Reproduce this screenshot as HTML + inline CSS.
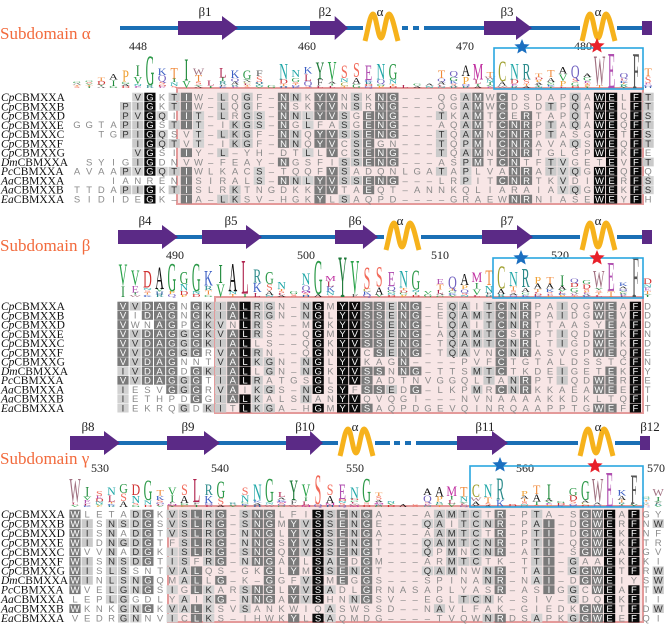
<!DOCTYPE html>
<html><head><meta charset="utf-8">
<style>
html,body{margin:0;padding:0;background:#fff;}
svg{display:block;}
</style></head>
<body>
<svg id="fig" width="667" height="625" viewBox="0 0 667 625" xmlns="http://www.w3.org/2000/svg"></svg>
<script>
const speciesNames = ["CpCBMXXA","CpCBMXXB","CpCBMXXD","CpCBMXXE","CpCBMXXC","CpCBMXXF","CpCBMXXG","DmCBMXXA","PcCBMXXA","AaCBMXXA","AaCBMXXB","EaCBMXXA"];
const seqAlpha = [
"     VGKTIW-LQGF-NNKYVNSKNG---QGAMWCDSDAPQAWELFT",
"    PIGKTIW-LQGF-NSKYVNSRNG---QGAMWCDSDTPQAWELFT",
"    PVGQIIT-LRGS-NNLYVSGENG---TKAMTCERTAPQTWEQFS",
"GGTAPIGSTIT-IKGS-NGLFASGENG---AQAMTCNRPTAQAWEQFT",
"  TGPIGQSVT-LKGF-NNQYVSSENG---TQAMNCNRPTASGWETFS",
"     IGQTVT-IKGF-NNQYVCSEGN---TQPMICNRAVAQSWEQFT",
"     VGSIIY-L-YH-DTLLVCSENG---TQAMNCNRTGLGPWEKFE",
" SYIGIGDNVW-FEAY-NGSFISSENG---ASPMTCNTFTVGETEVFT",
"AVAAPVGQTIWLKACS-TQQFVSADQNLGATAPLVANRATVQGWEQFQ",
"   IANRENISIRALS-NNLYVSSENG---LRPITCNRTKVDIWERFS",
"TTDAPIGKTISLRKTNGDKKYVTAEQT-ANNKQLIARAIAVQGWEKFS",
"SIDIDEGK-IA-LKSV-HGKYLSAQPD----GRAEWNRNIASEWEYFH"];
const seqBeta = [
"VVDAGNGKIALRGN-NGMYVSSENG-EQAITCNRPAIQGWEAFD",
"VIDAGNGKIALRGN-NGLYVSSENG-EQAMTCNRPAIDGWEVFD",
"VWNAGPGKVNLRS--MGKYVSSENG-LQAITCNRTTAASYEAFD",
"VVDAGGGKVALRS--QGMYVSSENG-AQAMTCSRPTIQDWEKFN",
"VVDAGGGKIALLS--QGKYVSSENG-TQAMTCNRLTIGDWEKFD",
"VVDAGGGRVALRN--QGNYVCSENG-TQAVNCNRASVGPWEQFE",
"VVDAGNNTVALKGN-NGLYVKAGN----PVFCTGTALDSSTCFN",
"IVDAGDGKIALLGN-NGKYVSSNNG-TTSMTCTKDEIGETEKFY",
"VVDAGGGTIALRATGSGLYVSADTNVGGQLTANRPTIQDWERFE",
"IESVGGGRVAIKGS-NGSYFSSEDG-LKPMRCNRKKAEAWEEFT",
"IETHPDGGIALKALSNANYVQVQGI---NVNAAAAKKDKLTQFI",
"IEKRQGDKITLKGA-HGMYVSAQPDGEVQINRQAAPPTGWEFFT"];
const seqGamma = [
"WLETADGKVSLRG-SNGLFISSENGA---AAMTCTR-PTA-SGWEAFGY",
"WISNSDGSVSLRG-SNGMYVSSENGE---QAITCNR-PAI-DGWERFNW",
"WISNADGTVSLRG-NNGLYVSSENGA---AAMTCTR-PTI-DGWEKFNF",
"WIDNGDGTFSLRG-NNGSYVSSENGT---QAMTCNR-PTI-QGWEKFTR",
"WVVNADGKISLRG-SNGQYVSSENGT---QPMNCNR-ATI-SGWEAFGV",
"WISNSDGTISFRG-NNGAYLSAEDGM---ARMTCTK-TTI-GAAEKFKI",
"WISLSSNTVALQS-GKGLYMSSENGT---QAMNWNR-TAI-GGWETFRW",
"WINLSNGQMALLG-K-GGFVSMEGGS---SPINANR-NAI-DGWEIYSW",
"WVELGNGSIGLKARSNGLYVSADLGRNASAPLYASR-ASIGGCWEAFTW",
"LEPLGGDLYAIKG-NNGAYVSHNNGSV--EGLTCNK-SIV-GDQEKFII",
"WKNKGNGKVALKSVSANKWIQASWSSD--NAVLFAK-GIEDKGWETFDW",
"VEDRGNNVICLKS-IHWKYLSAQMDG----TVQWNRDSAPKGGWEEFQI"];
const posAlpha = [448,460,470,480];
const posBeta = [490,500,510,520];
const posGamma = [530,540,550,560,570];

const NS="http://www.w3.org/2000/svg";
const svg=document.getElementById('fig');
function mk(tag,attrs,parent){const e=document.createElementNS(NS,tag);for(const k in attrs)e.setAttribute(k,attrs[k]);(parent||svg).appendChild(e);return e;}
const colors={G:'#2e9a4a',I:'#1f8a3a',K:'#3d5fc4',T:'#f08a3a',L:'#b0244f',N:'#22a8a8',Y:'#1f7a3a',V:'#2aa34a',S:'#f26a5a',E:'#b04fb0',W:'#a07080',F:'#555555',C:'#a0a030',M:'#c030a0',R:'#2a8a8a',A:'#111111',Q:'#7060c0',P:'#f0a030',D:'#d03030',H:'#3060a0'};

const panels=[
 {name:'alpha',label:'Subdomain α',ly:33,seqs:seqAlpha,pos:posAlpha,posX:[138,307,465,583],numY:50,x0:77,px:12.15,ry0:97,rp:9.27,lb:88,lh:38,pink:[177,88,643,204],blue:[494,48,643,89],
  ssY:28,line:[120,648],arrows:[[178,238],[310,348],[484,532]],helix:[365,582],dash:[[398,430]],sq:642,
  labels:[['β1',205],['β2',325],['α',380],['β3',507],['α',598]],stars:[[522,47,'#1b6fc0'],[597,46,'#e8202a']]},
 {name:'beta',label:'Subdomain β',ly:245,seqs:seqBeta,pos:posBeta,posX:[175,306,440,560],numY:259,x0:123,px:12.2,ry0:306,rp:9.27,lb:297,lh:44,pink:[215,297,643,413],blue:[493,258,643,298],
  ssY:237,line:[118,648],arrows:[[118,178],[202,262],[335,378],[482,533]],helix:[386,582],dash:[],sq:642,
  labels:[['β4',145],['β5',231],['β6',355],['α',400],['β7',507],['α',598]],stars:[[521,258,'#1b6fc0'],[597,258,'#e8202a']]},
 {name:'gamma',label:'Subdomain γ',ly:458,seqs:seqGamma,pos:posGamma,posX:[100,220,355,525,656],numY:472,x0:75,px:12.15,ry0:514,rp:9.45,lb:507,lh:38,pink:[168,506,643,622],blue:[470,466,643,507],
  ssY:443,line:[70,648],arrows:[[70,120],[167,220],[286,323],[457,508]],helix:[340,580],dash:[[390,422]],sq:640,
  labels:[['β8',88],['β9',188],['β10',305],['α',355],['β11',485],['α',598],['β12',650]],stars:[[500,465,'#1b6fc0'],[595,466,'#e8202a']]}
];

function star(cx,cy,r,fill,g,name){
 let pts=[];for(let i=0;i<10;i++){const a=-Math.PI/2+i*Math.PI/5;const rr=i%2?r*0.45:r;pts.push((cx+rr*Math.cos(a)).toFixed(1)+','+(cy+rr*Math.sin(a)).toFixed(1));}
 const s=mk('polygon',{points:pts.join(' '),fill:fill},g);
 
 
}

panels.forEach(P=>{
 const g=mk('g',{});
 
 
 const t=mk('text',{x:0,y:P.ly+6,'font-family':'Liberation Serif, serif','font-size':17,fill:'#f26a3c'},g);
 t.textContent=P.label;
 
 
 const ss=mk('g',{},g);
 
 
 let segs=[[P.line[0],P.line[1]]];
 P.dash.forEach(d=>{
   segs=[[P.line[0],d[0]],[d[1],P.line[1]]];
   for(let x=d[0]+4;x<d[1]-2;x+=11){mk('line',{x1:x,y1:P.ssY,x2:x+6,y2:P.ssY,stroke:'#1a6fb5','stroke-width':4},ss);}
 });
 segs.forEach(s=>mk('line',{x1:s[0],y1:P.ssY,x2:s[1],y2:P.ssY,stroke:'#1a6fb5','stroke-width':4},ss));
 P.arrows.forEach(a=>{
   const y=P.ssY,w=a[1]-a[0],hl=Math.min(16,w*0.35);
   const p=mk('polygon',{points:`${a[0]},${y-7} ${a[1]-hl},${y-7} ${a[1]-hl},${y-12} ${a[1]},${y} ${a[1]-hl},${y+12} ${a[1]-hl},${y+7} ${a[0]},${y+7}`,fill:'#5b2a86'},ss);
   
   
 });
 P.helix.forEach(hx=>{
   const y=P.ssY;
   mk('rect',{x:hx-2,y:y-3,width:37,height:6,fill:'#fff'},ss);
   const h=mk('path',{d:`M${hx},${y+13} C${hx+3},${y+2} ${hx+5},${y-14} ${hx+8},${y-14} C${hx+11},${y-14} ${hx+13},${y+10} ${hx+16},${y+10} C${hx+19},${y+10} ${hx+21},${y-14} ${hx+24},${y-14} C${hx+27},${y-14} ${hx+30},${y+2} ${hx+33},${y+13}`,fill:'none',stroke:'#f6b21c','stroke-width':5,'stroke-linejoin':'round'},ss);
   
   
 });
 mk('rect',{x:P.sq,y:P.ssY-7,width:10,height:14,fill:'#5b2a86'},ss);
 P.labels.forEach(l=>{
   const tx=mk('text',{x:l[1],y:P.ssY-12,'text-anchor':'middle','font-family':'Liberation Serif, serif','font-size':13,fill:'#222'},ss);
   tx.textContent=l[0];
   
   
 });
 const pk=mk('rect',{x:P.pink[0],y:P.pink[1],width:P.pink[2]-P.pink[0],height:P.pink[3]-P.pink[1],fill:'#f8e6e6',stroke:'#e49a9a','stroke-width':2},g);
 
 
 P.pos.forEach((v,i)=>{
   const n=mk('text',{x:P.posX[i],y:P.numY,'text-anchor':'middle','font-family':'Liberation Serif, serif','font-size':12,fill:'#222'},g);
   n.textContent=v;
   
   
 });
 const ncol=P.seqs[0].length;
 const cons=[];
 for(let c=0;c<ncol;c++){
   const cnt={};P.seqs.forEach(s=>{const ch=s[c];if(ch&&ch!==' '&&ch!=='-')cnt[ch]=(cnt[ch]||0)+1;});
   cons.push(Object.entries(cnt).sort((a,b)=>b[1]-a[1]));
 }
 const logo=mk('g',{},g);
 
 
 for(let c=0;c<ncol;c++){
   const ent=cons[c];const tot=ent.reduce((s,e)=>s+e[1],0);if(!tot)continue;
   let H=0;ent.forEach(e=>{const p=e[1]/tot;H-=p*Math.log2(p);});
   const info=Math.max(0.15,(Math.log2(20)-H)/Math.log2(20))*(tot/12);
   let y=P.lb;
   const x=P.x0+c*P.px;
   ent.slice().reverse().forEach(e=>{
     const h=P.lh*info*e[1]/tot;
     if(h<0.6){y-=h;return;}
     const sc=h/7.3;
     const lt=mk('text',{x:0,y:0,'text-anchor':'middle','font-family':'Liberation Serif, serif','font-size':10,fill:colors[e[0]]||'#333',transform:`translate(${x.toFixed(1)},${y.toFixed(1)}) scale(1.2,${sc.toFixed(3)})`},logo);
     lt.textContent=e[0];
     y-=h;
   });
 }
 const bb=mk('rect',{x:P.blue[0],y:P.blue[1],width:P.blue[2]-P.blue[0],height:P.blue[3]-P.blue[1],fill:'none',stroke:'#2aa6df','stroke-width':1.6},g);
 
 
 P.stars.forEach((s,i)=>star(s[0],s[1],8,s[2],g,i?'catalytic-star-red':'catalytic-star-blue'));
 P.seqs.forEach((s,r)=>{
   const y=P.ry0+r*P.rp;
   const row=mk('g',{},g);
   
   
   const nm=speciesNames[r];
   const lab=mk('text',{x:1,y:y+4,'font-family':'Liberation Serif, serif','font-size':11.5,fill:'#111'},row);
   const it=mk('tspan',{'font-style':'italic'},lab);it.textContent=nm.slice(0,2);
   const rs=mk('tspan',{},lab);rs.textContent=nm.slice(2);
   
   
   for(let c=0;c<s.length;c++){
     const ch=s[c];if(ch===' ')continue;
     const x=P.x0+c*P.px;
     let fill=null,tc='#8a8a8a';
     const ent=cons[c];
     if(ch!=='-'&&ent.length){
       const f=ent[0][1]/12;
       if(ch===ent[0][0]){
         if(f>=0.9){fill='#0a0a0a';tc='#fff';}
         else if(f>=0.66){fill='#7a7a7a';tc='#fff';}
         else if(f>=0.4){fill='#cacaca';tc='#333';}
       }else if(ent[1]&&ch===ent[1][0]&&ent[1][1]>=4){fill='#d2d2d2';tc='#333';}
     }
     if(fill)mk('rect',{x:(x-5.6).toFixed(1),y:(y-4.3).toFixed(1),width:11.2,height:8.8,fill:fill},row);
     const ct=mk('text',{x:x.toFixed(1),y:(y+3.4).toFixed(1),'text-anchor':'middle','font-family':'Liberation Sans, sans-serif','font-size':9.5,fill:tc},row);
     ct.textContent=ch==='-'?'–':ch;
   }
 });
});
</script>
</body></html>
